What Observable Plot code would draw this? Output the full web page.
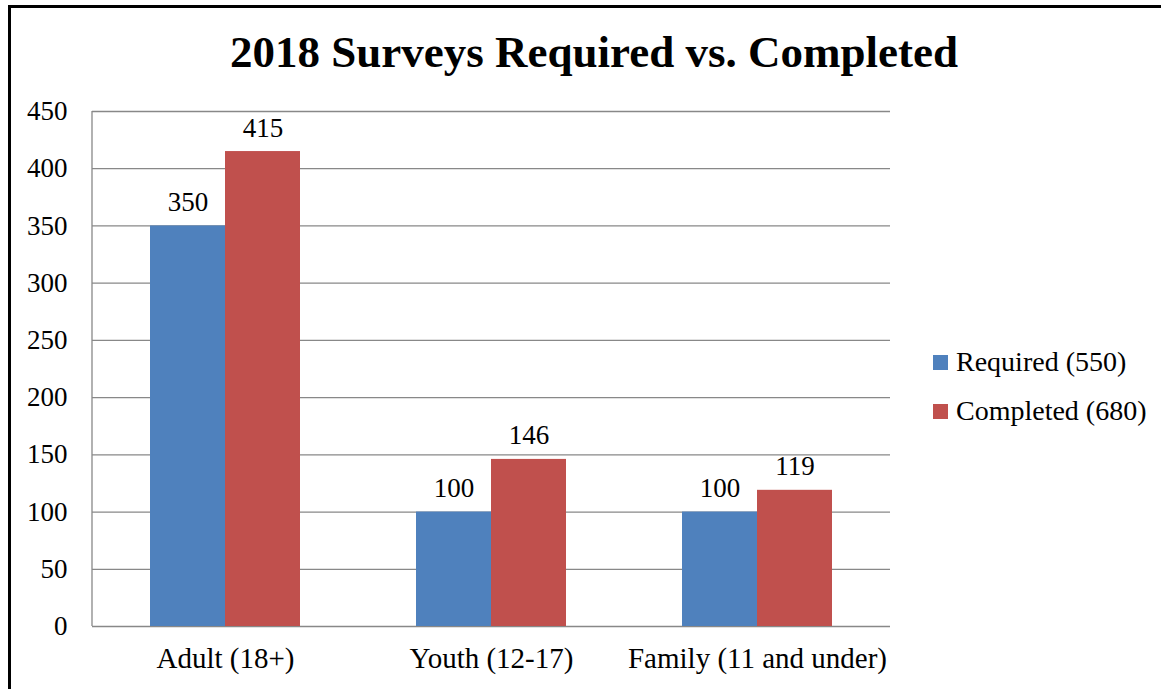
<!DOCTYPE html>
<html>
<head>
<meta charset="utf-8">
<script src="https://cdn.jsdelivr.net/npm/d3@7"></script>
<script src="https://cdn.jsdelivr.net/npm/@observablehq/plot@0.6"></script>
<style>
  html, body { margin: 0; padding: 0; background: #fff; overflow: hidden; }
  #page { position: relative; width: 1161px; height: 689px; overflow: hidden; font-family: "Liberation Serif", "DejaVu Serif", serif; }
  #frame { position: absolute; left: 8px; top: 5px; width: 1200px; height: 750px; border: 3px solid #000; box-sizing: border-box; }
  #title { position: absolute; left: 0; top: 25px; width: 1188px; text-align: center; font-size: 45px; font-weight: bold; line-height: 54px; color: #000; }
  #chart { position: absolute; left: 0; top: 80px; }
  #legend { position: absolute; left: 933px; top: 346px; font-size: 28px; color: #000; }
  .item { display: flex; align-items: center; height: 32px; margin-bottom: 17px; }
  .sw { width: 15px; height: 15px; margin-right: 8px; }
</style>
</head>
<body>
<div id="page">
  <div id="frame"></div>
  <div id="title">2018 Surveys Required vs. Completed</div>
  <div id="chart"></div>
  <div id="legend"></div>
</div>
<script>
const categories = ["Adult (18+)", "Youth (12-17)", "Family (11 and under)"];
const series = ["Required (550)", "Completed (680)"];
const required = [350, 100, 100];
const completed = [415, 146, 119];
const yTicks = [0, 50, 100, 150, 200, 250, 300, 350, 400, 450];
const colors = ["#4F81BD", "#C0504D"];

const data = [];
categories.forEach((c, i) => {
  data.push({category: c, series: series[0], value: required[i]});
  data.push({category: c, series: series[1], value: completed[i]});
});

const chart = Plot.plot({
  width: 1161,
  height: 610,
  marginLeft: 92,
  marginRight: 271,
  marginTop: 31,
  marginBottom: 64,
  style: {fontFamily: "'Liberation Serif', 'DejaVu Serif', serif", fontSize: "27px", color: "#000", background: "transparent"},
  fx: {domain: categories, padding: 0, axis: "bottom", label: null, tickSize: 0, tickPadding: 21},
  x: {domain: series, axis: null, paddingInner: 0, paddingOuter: 0.76},
  y: {domain: [0, 450], ticks: yTicks, label: null, tickSize: 0, tickPadding: 25},
  color: {domain: series, range: colors},
  facet: {data: data, x: "category"},
  marks: [
    Plot.ruleY(yTicks, {stroke: "#888", strokeWidth: 1.3}),
    Plot.barY(data, {x: "series", y: "value", fill: "series"}),
    Plot.text(data, {x: "series", y: "value", text: d => String(d.value), lineAnchor: "bottom", dy: -15, fill: "#000", fontSize: 27})
  ]
});
document.getElementById("chart").appendChild(chart);

const svg = d3.select(chart);
// enlarge category labels
svg.selectAll("text").filter(function() { return categories.includes(this.textContent); })
  .style("font-size", "29px");

// vertical axis line at left of plot area
svg.append("line")
  .attr("x1", 92).attr("x2", 92)
  .attr("y1", 31).attr("y2", 546)
  .attr("stroke", "#888").attr("stroke-width", 1.3);

const legend = document.getElementById("legend");
series.forEach((s, i) => {
  const item = document.createElement("div");
  item.className = "item";
  const sw = document.createElement("div");
  sw.className = "sw";
  sw.style.background = colors[i];
  const t = document.createElement("span");
  t.textContent = s;
  item.appendChild(sw);
  item.appendChild(t);
  legend.appendChild(item);
});
</script>
</body>
</html>
